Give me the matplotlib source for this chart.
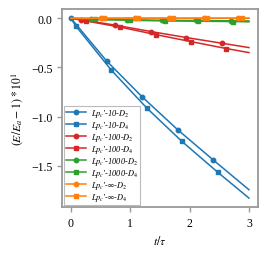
import matplotlib
matplotlib.use("Agg")
import matplotlib.pyplot as plt

plt.rcParams['font.family'] = ['Liberation Serif', 'DejaVu Serif']
plt.rcParams['mathtext.fontset'] = 'stix'

# Blue (Lp_c'=10)
t_b2 = [0, 0.6, 1.2, 1.8, 2.4, 3.0]
y_b2 = [0, -0.434, -0.80, -1.135, -1.443, -1.745]
t_b4 = [0, 0.08, 0.68, 1.28, 1.87, 2.47, 3.0]
y_b4 = [0, -0.078, -0.528, -0.915, -1.253, -1.565, -1.83]
# Red (Lp_c'=100)
t_r2 = [0, 0.17, 0.75, 1.35, 1.945, 2.545, 3.0]
y_r2 = [0, -0.015, -0.07, -0.135, -0.196, -0.254, -0.298]
t_r4 = [0, 0.25, 0.83, 1.43, 2.02, 2.62, 3.0]
y_r4 = [0, -0.027, -0.09, -0.166, -0.237, -0.308, -0.349]
# Green (Lp_c'=1000)
t_g2 = [0, 0.34, 0.94, 1.54, 2.10, 2.69, 3.0]
y_g2 = [0, -0.010, -0.015, -0.020, -0.022, -0.025, -0.027]
t_g4 = [0, 0.40, 0.99, 1.59, 2.14, 2.73, 3.0]
y_g4 = [0, -0.012, -0.020, -0.027, -0.030, -0.033, -0.036]
# Orange (Lp_c'=inf)
t_o2 = [0, 0.50, 1.08, 1.66, 2.24, 2.82, 3.0]
y_o2 = [0, 0.001, 0.001, 0.001, 0.001, 0.001, 0.001]
t_o4 = [0, 0.56, 1.13, 1.72, 2.29, 2.88, 3.0]
y_o4 = [0, 0.001, 0.001, 0.001, 0.001, 0.001, 0.001]

labels = ["$Lp_c$\u2032-10-$D_2$", "$Lp_c$\u2032-10-$D_4$",
          "$Lp_c$\u2032-100-$D_2$", "$Lp_c$\u2032-100-$D_4$",
          "$Lp_c$\u2032-1000-$D_2$", "$Lp_c$\u2032-1000-$D_4$",
          "$Lp_c$\u2032-\u221e-$D_2$", "$Lp_c$\u2032-\u221e-$D_4$"]

series = [
    (t_b2, y_b2, '#1f77b4', 'o', [0, 1, 2, 3, 4]),
    (t_b4, y_b4, '#1f77b4', 's', [1, 2, 3, 4, 5]),
    (t_r2, y_r2, '#d62728', 'o', [1, 2, 3, 4, 5]),
    (t_r4, y_r4, '#d62728', 's', [1, 2, 3, 4, 5]),
    (t_g2, y_g2, '#2ca02c', 'o', [1, 2, 3, 4, 5]),
    (t_g4, y_g4, '#2ca02c', 's', [1, 2, 3, 4, 5]),
    (t_o2, y_o2, '#ff7f0e', 'o', [1, 2, 3, 4, 5]),
    (t_o4, y_o4, '#ff7f0e', 's', [1, 2, 3, 4, 5]),
]

fig = plt.figure(figsize=(2.7, 2.55), dpi=100, facecolor='white')
ax = fig.add_axes([0.23, 0.184, 0.725, 0.776], facecolor='white')
for (t, y, c, m, me), lab in zip(series, labels):
    ax.plot(t, y, color=c, marker=m, markevery=me, markersize=3.2,
            linewidth=1.1, label=lab)

ax.set_xticks([0, 1, 2, 3])
ax.set_yticks([0.0, -0.5, -1.0, -1.5])
ax.set_yticklabels(['0.0', '\u22120.5', '\u22121.0', '\u22121.5'])
for s in ax.spines.values():
    s.set_color('#999999')
    s.set_linewidth(1.3)
ax.tick_params(colors='#999999', labelcolor='black', labelsize=8.5,
               length=3.5, width=1.0)
ax.set_xlabel(r'$t/\tau$', fontsize=8.5)
ax.set_ylabel(r'$(E/E_a-1)*10^1$', fontsize=8.5)

leg = ax.legend(loc='lower left', prop={'style': 'italic', 'size': 6.0},
                fancybox=False, framealpha=1, edgecolor='#bbbbbb',
                handlelength=2.4, labelspacing=0.0, borderpad=0.2,
                handletextpad=0.6, borderaxespad=0.25)
leg.get_frame().set_linewidth(0.8)

fig.savefig('out.png', dpi=100, facecolor='white')
